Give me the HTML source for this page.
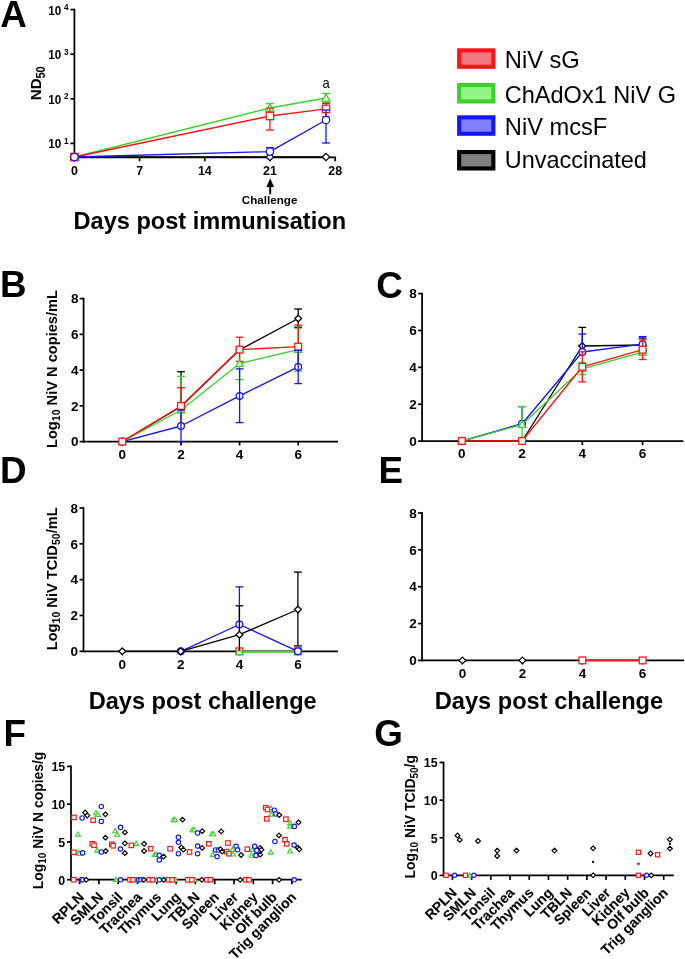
<!DOCTYPE html>
<html><head><meta charset="utf-8"><title>Figure</title>
<style>
html,body{margin:0;padding:0;background:#fff;}
body{width:685px;height:959px;overflow:hidden;}
svg{display:block;filter:blur(0.45px);}
svg text{font-family:"Liberation Sans", sans-serif;}
</style></head>
<body>
<svg width="685" height="959" viewBox="0 0 685 959">
<rect width="685" height="959" fill="#fff"/>
<text x="0.3" y="26.8" font-size="36.8" font-weight="bold" text-anchor="start" fill="#000">A</text>
<text x="0.1" y="297.0" font-size="36.8" font-weight="bold" text-anchor="start" fill="#000">B</text>
<text x="376.2" y="297.6" font-size="36.8" font-weight="bold" text-anchor="start" fill="#000">C</text>
<text x="0.0" y="483.0" font-size="36.8" font-weight="bold" text-anchor="start" fill="#000">D</text>
<text x="378.6" y="482.9" font-size="36.8" font-weight="bold" text-anchor="start" fill="#000">E</text>
<text x="3.6" y="746.0" font-size="36.8" font-weight="bold" text-anchor="start" fill="#000">F</text>
<text x="374.2" y="746.0" font-size="36.8" font-weight="bold" text-anchor="start" fill="#000">G</text>
<line x1="74.4" y1="8.7" x2="74.4" y2="158.20000000000002" stroke="#000" stroke-width="1.75"/>
<line x1="70.4" y1="9.6" x2="74.4" y2="9.6" stroke="#000" stroke-width="1.7"/>
<text x="48.2" y="14.6" font-size="13.0" font-weight="bold" text-anchor="start" fill="#000" textLength="13.0" lengthAdjust="spacingAndGlyphs">10</text>
<text x="63.9" y="10.2" font-size="8.2" font-weight="bold" text-anchor="start" fill="#000">4</text>
<line x1="70.4" y1="54.2" x2="74.4" y2="54.2" stroke="#000" stroke-width="1.7"/>
<text x="48.2" y="59.2" font-size="13.0" font-weight="bold" text-anchor="start" fill="#000" textLength="13.0" lengthAdjust="spacingAndGlyphs">10</text>
<text x="63.9" y="54.800000000000004" font-size="8.2" font-weight="bold" text-anchor="start" fill="#000">3</text>
<line x1="70.4" y1="98.8" x2="74.4" y2="98.8" stroke="#000" stroke-width="1.7"/>
<text x="48.2" y="103.8" font-size="13.0" font-weight="bold" text-anchor="start" fill="#000" textLength="13.0" lengthAdjust="spacingAndGlyphs">10</text>
<text x="63.9" y="99.39999999999999" font-size="8.2" font-weight="bold" text-anchor="start" fill="#000">2</text>
<line x1="70.4" y1="143.4" x2="74.4" y2="143.4" stroke="#000" stroke-width="1.7"/>
<text x="48.2" y="148.4" font-size="13.0" font-weight="bold" text-anchor="start" fill="#000" textLength="13.0" lengthAdjust="spacingAndGlyphs">10</text>
<text x="63.9" y="144.0" font-size="8.2" font-weight="bold" text-anchor="start" fill="#000">1</text>
<line x1="73.5" y1="157.3" x2="336.05" y2="157.3" stroke="#000" stroke-width="1.75"/>
<line x1="74.4" y1="157.3" x2="74.4" y2="161.3" stroke="#000" stroke-width="1.7"/>
<text x="74.4" y="175.0" font-size="12.4" font-weight="bold" text-anchor="middle" fill="#000">0</text>
<line x1="139.6" y1="157.3" x2="139.6" y2="161.3" stroke="#000" stroke-width="1.7"/>
<text x="139.6" y="175.0" font-size="12.4" font-weight="bold" text-anchor="middle" fill="#000">7</text>
<line x1="204.79999999999998" y1="157.3" x2="204.79999999999998" y2="161.3" stroke="#000" stroke-width="1.7"/>
<text x="204.79999999999998" y="175.0" font-size="12.4" font-weight="bold" text-anchor="middle" fill="#000">14</text>
<line x1="270.0" y1="157.3" x2="270.0" y2="161.3" stroke="#000" stroke-width="1.7"/>
<text x="270.0" y="175.0" font-size="12.4" font-weight="bold" text-anchor="middle" fill="#000">21</text>
<line x1="335.19999999999993" y1="157.3" x2="335.19999999999993" y2="161.3" stroke="#000" stroke-width="1.7"/>
<text x="335.19999999999993" y="175.0" font-size="12.4" font-weight="bold" text-anchor="middle" fill="#000">28</text>
<text transform="translate(41.2,100.2) rotate(-90)" font-size="15.5" font-weight="bold" textLength="21.9" lengthAdjust="spacingAndGlyphs">ND</text>
<text transform="translate(44.9,78.6) rotate(-90)" font-size="12" font-weight="bold" textLength="12.4" lengthAdjust="spacingAndGlyphs">50</text>
<polyline points="74.4,157.0 269.9,157.0 326.0,157.0" fill="none" stroke="#000000" stroke-width="1.35" stroke-linejoin="round"/>
<polygon points="74.40,153.34 78.21,157.00 74.40,160.66 70.59,157.00" fill="#fff" stroke="#000000" stroke-width="1.25"/>
<polygon points="269.90,153.34 273.71,157.00 269.90,160.66 266.09,157.00" fill="#fff" stroke="#000000" stroke-width="1.25"/>
<polygon points="326.00,153.34 329.81,157.00 326.00,160.66 322.19,157.00" fill="#fff" stroke="#000000" stroke-width="1.25"/>
<polyline points="74.4,157.0 269.9,108.0 326.0,98.0" fill="none" stroke="#3cd22a" stroke-width="1.35" stroke-linejoin="round"/>
<line x1="269.9" y1="103.6" x2="269.9" y2="112.4" stroke="#3cd22a" stroke-width="1.3"/>
<line x1="266.0" y1="103.6" x2="273.79999999999995" y2="103.6" stroke="#3cd22a" stroke-width="1.3"/>
<line x1="266.0" y1="112.4" x2="273.79999999999995" y2="112.4" stroke="#3cd22a" stroke-width="1.3"/>
<line x1="326.0" y1="93.4" x2="326.0" y2="102.6" stroke="#3cd22a" stroke-width="1.3"/>
<line x1="322.1" y1="93.4" x2="329.9" y2="93.4" stroke="#3cd22a" stroke-width="1.3"/>
<line x1="322.1" y1="102.6" x2="329.9" y2="102.6" stroke="#3cd22a" stroke-width="1.3"/>
<polygon points="74.40,153.09 78.42,160.17 70.38,160.17" fill="#fff" stroke="#3cd22a" stroke-width="1.25" stroke-linejoin="miter"/>
<polygon points="269.90,104.09 273.92,111.17 265.88,111.17" fill="#fff" stroke="#3cd22a" stroke-width="1.25" stroke-linejoin="miter"/>
<polygon points="326.00,94.09 330.02,101.17 321.98,101.17" fill="#fff" stroke="#3cd22a" stroke-width="1.25" stroke-linejoin="miter"/>
<polyline points="74.4,157.0 269.9,116.0 326.0,108.9" fill="none" stroke="#ff1414" stroke-width="1.35" stroke-linejoin="round"/>
<line x1="269.9" y1="108.0" x2="269.9" y2="130.0" stroke="#ff1414" stroke-width="1.3"/>
<line x1="266.0" y1="108.0" x2="273.79999999999995" y2="108.0" stroke="#ff1414" stroke-width="1.3"/>
<line x1="266.0" y1="130.0" x2="273.79999999999995" y2="130.0" stroke="#ff1414" stroke-width="1.3"/>
<line x1="326.0" y1="103.4" x2="326.0" y2="116.7" stroke="#ff1414" stroke-width="1.3"/>
<line x1="322.1" y1="103.4" x2="329.9" y2="103.4" stroke="#ff1414" stroke-width="1.3"/>
<line x1="322.1" y1="116.7" x2="329.9" y2="116.7" stroke="#ff1414" stroke-width="1.3"/>
<rect x="70.68" y="153.28" width="7.45" height="7.45" fill="#fff" stroke="#ff1414" stroke-width="1.25"/>
<rect x="266.17" y="112.28" width="7.45" height="7.45" fill="#fff" stroke="#ff1414" stroke-width="1.25"/>
<rect x="322.27" y="105.18" width="7.45" height="7.45" fill="#fff" stroke="#ff1414" stroke-width="1.25"/>
<polyline points="74.4,157.0 269.9,151.6 326.0,120.0" fill="none" stroke="#1414ff" stroke-width="1.35" stroke-linejoin="round"/>
<line x1="269.9" y1="147.6" x2="269.9" y2="151.6" stroke="#1414ff" stroke-width="1.3"/>
<line x1="266.0" y1="147.6" x2="273.79999999999995" y2="147.6" stroke="#1414ff" stroke-width="1.3"/>
<line x1="326.0" y1="110.0" x2="326.0" y2="143.0" stroke="#1414ff" stroke-width="1.3"/>
<line x1="322.1" y1="110.0" x2="329.9" y2="110.0" stroke="#1414ff" stroke-width="1.3"/>
<line x1="322.1" y1="143.0" x2="329.9" y2="143.0" stroke="#1414ff" stroke-width="1.3"/>
<circle cx="74.40" cy="157.00" r="3.72" fill="#fff" stroke="#1414ff" stroke-width="1.25"/>
<circle cx="269.90" cy="151.60" r="3.72" fill="#fff" stroke="#1414ff" stroke-width="1.25"/>
<circle cx="326.00" cy="120.00" r="3.72" fill="#fff" stroke="#1414ff" stroke-width="1.25"/>
<text x="326.0" y="87.8" font-size="14.2" font-weight="normal" text-anchor="middle" fill="#000" textLength="7.2" lengthAdjust="spacingAndGlyphs">a</text>
<line x1="270.2" y1="185" x2="270.2" y2="194.2" stroke="#000" stroke-width="2.0"/>
<polygon points="270.2,178.2 266.4,187.0 274.0,187.0" fill="#000"/>
<text x="269.6" y="203.6" font-size="10.2" font-weight="bold" text-anchor="middle" fill="#000" textLength="55.5" lengthAdjust="spacingAndGlyphs">Challenge</text>
<text x="73.5" y="228.9" font-size="24.0" font-weight="bold" text-anchor="start" fill="#000" textLength="272.6" lengthAdjust="spacingAndGlyphs">Days post immunisation</text>
<rect x="459.15000000000003" y="50.349999999999994" width="34.199999999999996" height="16.4" fill="#f07880" stroke="#ff1414" stroke-width="4.1"/>
<text x="504.8" y="68.0" font-size="23.6" font-weight="normal" text-anchor="start" fill="#000" textLength="75.0" lengthAdjust="spacingAndGlyphs">NiV sG</text>
<rect x="459.15000000000003" y="85.05" width="34.199999999999996" height="16.4" fill="#91f587" stroke="#3cd22a" stroke-width="4.1"/>
<text x="504.8" y="102.8" font-size="23.6" font-weight="normal" text-anchor="start" fill="#000" textLength="171.2" lengthAdjust="spacingAndGlyphs">ChAdOx1 NiV G</text>
<rect x="459.15000000000003" y="117.35" width="34.199999999999996" height="16.4" fill="#8080ff" stroke="#1414ff" stroke-width="4.1"/>
<text x="504.8" y="134.8" font-size="23.6" font-weight="normal" text-anchor="start" fill="#000" textLength="102.5" lengthAdjust="spacingAndGlyphs">NiV mcsF</text>
<rect x="459.15000000000003" y="152.05" width="34.199999999999996" height="16.4" fill="#808080" stroke="#000000" stroke-width="4.1"/>
<text x="504.8" y="168.3" font-size="23.6" font-weight="normal" text-anchor="start" fill="#000" textLength="142.0" lengthAdjust="spacingAndGlyphs">Unvaccinated</text>
<line x1="83.6" y1="297.70000000000005" x2="83.6" y2="442.5" stroke="#000" stroke-width="1.75"/>
<line x1="79.6" y1="441.6" x2="83.6" y2="441.6" stroke="#000" stroke-width="1.7"/>
<text x="78.6" y="446.3" font-size="13.5" font-weight="bold" text-anchor="end" fill="#000">0</text>
<line x1="79.6" y1="405.85" x2="83.6" y2="405.85" stroke="#000" stroke-width="1.7"/>
<text x="78.6" y="410.55" font-size="13.5" font-weight="bold" text-anchor="end" fill="#000">2</text>
<line x1="79.6" y1="370.1" x2="83.6" y2="370.1" stroke="#000" stroke-width="1.7"/>
<text x="78.6" y="374.8" font-size="13.5" font-weight="bold" text-anchor="end" fill="#000">4</text>
<line x1="79.6" y1="334.35" x2="83.6" y2="334.35" stroke="#000" stroke-width="1.7"/>
<text x="78.6" y="339.05" font-size="13.5" font-weight="bold" text-anchor="end" fill="#000">6</text>
<line x1="79.6" y1="298.6" x2="83.6" y2="298.6" stroke="#000" stroke-width="1.7"/>
<text x="78.6" y="303.3" font-size="13.5" font-weight="bold" text-anchor="end" fill="#000">8</text>
<line x1="82.69999999999999" y1="441.6" x2="338.0" y2="441.6" stroke="#000" stroke-width="1.75"/>
<line x1="122.3" y1="441.6" x2="122.3" y2="445.6" stroke="#000" stroke-width="1.7"/>
<text x="122.3" y="458.6" font-size="13.5" font-weight="bold" text-anchor="middle" fill="#000">0</text>
<line x1="181.0" y1="441.6" x2="181.0" y2="445.6" stroke="#000" stroke-width="1.7"/>
<text x="181.0" y="458.6" font-size="13.5" font-weight="bold" text-anchor="middle" fill="#000">2</text>
<line x1="239.6" y1="441.6" x2="239.6" y2="445.6" stroke="#000" stroke-width="1.7"/>
<text x="239.6" y="458.6" font-size="13.5" font-weight="bold" text-anchor="middle" fill="#000">4</text>
<line x1="298.2" y1="441.6" x2="298.2" y2="445.6" stroke="#000" stroke-width="1.7"/>
<text x="298.2" y="458.6" font-size="13.5" font-weight="bold" text-anchor="middle" fill="#000">6</text>
<text transform="translate(57.2,369.0) rotate(-90)" x="0" y="0" font-size="15" font-weight="bold" text-anchor="middle" textLength="158.0" lengthAdjust="spacingAndGlyphs"><tspan>Log</tspan><tspan font-size="10.80" dy="2.85">10</tspan><tspan dy="-2.85"> NiV N copies/mL</tspan></text>
<polyline points="122.3,441.6 181.0,406.5 239.6,349.8 298.2,318.5" fill="none" stroke="#000000" stroke-width="1.35" stroke-linejoin="round"/>
<polyline points="122.3,441.6 181.0,426.0 239.6,395.9 298.2,366.9" fill="none" stroke="#1414ff" stroke-width="1.35" stroke-linejoin="round"/>
<polyline points="122.3,441.6 181.0,410.0 239.6,363.5 298.2,349.6" fill="none" stroke="#3cd22a" stroke-width="1.35" stroke-linejoin="round"/>
<polyline points="122.3,441.6 181.0,406.0 239.6,349.6 298.2,346.7" fill="none" stroke="#ff1414" stroke-width="1.35" stroke-linejoin="round"/>
<line x1="181.0" y1="371.7" x2="181.0" y2="406.5" stroke="#000000" stroke-width="1.3"/>
<line x1="177.1" y1="371.7" x2="184.9" y2="371.7" stroke="#000000" stroke-width="1.3"/>
<line x1="177.1" y1="406.5" x2="184.9" y2="406.5" stroke="#000000" stroke-width="1.3"/>
<line x1="298.2" y1="309.0" x2="298.2" y2="327.7" stroke="#000000" stroke-width="1.3"/>
<line x1="294.3" y1="309.0" x2="302.09999999999997" y2="309.0" stroke="#000000" stroke-width="1.3"/>
<line x1="294.3" y1="327.7" x2="302.09999999999997" y2="327.7" stroke="#000000" stroke-width="1.3"/>
<line x1="181.0" y1="376.4" x2="181.0" y2="412.5" stroke="#3cd22a" stroke-width="1.3"/>
<line x1="177.1" y1="376.4" x2="184.9" y2="376.4" stroke="#3cd22a" stroke-width="1.3"/>
<line x1="177.1" y1="412.5" x2="184.9" y2="412.5" stroke="#3cd22a" stroke-width="1.3"/>
<line x1="239.6" y1="347.0" x2="239.6" y2="379.6" stroke="#3cd22a" stroke-width="1.3"/>
<line x1="235.7" y1="347.0" x2="243.5" y2="347.0" stroke="#3cd22a" stroke-width="1.3"/>
<line x1="235.7" y1="379.6" x2="243.5" y2="379.6" stroke="#3cd22a" stroke-width="1.3"/>
<line x1="298.2" y1="326.6" x2="298.2" y2="371.1" stroke="#3cd22a" stroke-width="1.3"/>
<line x1="294.3" y1="326.6" x2="302.09999999999997" y2="326.6" stroke="#3cd22a" stroke-width="1.3"/>
<line x1="294.3" y1="371.1" x2="302.09999999999997" y2="371.1" stroke="#3cd22a" stroke-width="1.3"/>
<line x1="181.0" y1="387.7" x2="181.0" y2="424.5" stroke="#ff1414" stroke-width="1.3"/>
<line x1="177.1" y1="387.7" x2="184.9" y2="387.7" stroke="#ff1414" stroke-width="1.3"/>
<line x1="177.1" y1="424.5" x2="184.9" y2="424.5" stroke="#ff1414" stroke-width="1.3"/>
<line x1="239.6" y1="337.2" x2="239.6" y2="361.3" stroke="#ff1414" stroke-width="1.3"/>
<line x1="235.7" y1="337.2" x2="243.5" y2="337.2" stroke="#ff1414" stroke-width="1.3"/>
<line x1="235.7" y1="361.3" x2="243.5" y2="361.3" stroke="#ff1414" stroke-width="1.3"/>
<line x1="298.2" y1="325.1" x2="298.2" y2="368.3" stroke="#ff1414" stroke-width="1.3"/>
<line x1="294.3" y1="325.1" x2="302.09999999999997" y2="325.1" stroke="#ff1414" stroke-width="1.3"/>
<line x1="294.3" y1="368.3" x2="302.09999999999997" y2="368.3" stroke="#ff1414" stroke-width="1.3"/>
<polygon points="122.30,438.28 125.75,441.60 122.30,444.92 118.84,441.60" fill="#fff" stroke="#000000" stroke-width="1.25"/>
<polygon points="181.00,403.18 184.46,406.50 181.00,409.82 177.54,406.50" fill="#fff" stroke="#000000" stroke-width="1.25"/>
<polygon points="239.60,346.48 243.06,349.80 239.60,353.12 236.14,349.80" fill="#fff" stroke="#000000" stroke-width="1.25"/>
<polygon points="298.20,315.18 301.65,318.50 298.20,321.82 294.75,318.50" fill="#fff" stroke="#000000" stroke-width="1.25"/>
<circle cx="122.30" cy="441.60" r="3.38" fill="#fff" stroke="#1414ff" stroke-width="1.25"/>
<circle cx="181.00" cy="426.00" r="3.38" fill="#fff" stroke="#1414ff" stroke-width="1.25"/>
<circle cx="239.60" cy="395.90" r="3.38" fill="#fff" stroke="#1414ff" stroke-width="1.25"/>
<circle cx="298.20" cy="366.90" r="3.38" fill="#fff" stroke="#1414ff" stroke-width="1.25"/>
<polygon points="122.30,438.06 125.94,444.47 118.66,444.47" fill="#fff" stroke="#3cd22a" stroke-width="1.25" stroke-linejoin="miter"/>
<polygon points="181.00,406.46 184.65,412.87 177.35,412.87" fill="#fff" stroke="#3cd22a" stroke-width="1.25" stroke-linejoin="miter"/>
<polygon points="239.60,359.96 243.25,366.37 235.95,366.37" fill="#fff" stroke="#3cd22a" stroke-width="1.25" stroke-linejoin="miter"/>
<polygon points="298.20,346.06 301.84,352.47 294.56,352.47" fill="#fff" stroke="#3cd22a" stroke-width="1.25" stroke-linejoin="miter"/>
<rect x="118.92" y="438.23" width="6.75" height="6.75" fill="#fff" stroke="#ff1414" stroke-width="1.25"/>
<rect x="177.62" y="402.62" width="6.75" height="6.75" fill="#fff" stroke="#ff1414" stroke-width="1.25"/>
<rect x="236.22" y="346.23" width="6.75" height="6.75" fill="#fff" stroke="#ff1414" stroke-width="1.25"/>
<rect x="294.82" y="343.32" width="6.75" height="6.75" fill="#fff" stroke="#ff1414" stroke-width="1.25"/>
<line x1="181.0" y1="410.1" x2="181.0" y2="441.6" stroke="#1414ff" stroke-width="1.3"/>
<line x1="177.1" y1="410.1" x2="184.9" y2="410.1" stroke="#1414ff" stroke-width="1.3"/>
<line x1="177.1" y1="441.6" x2="184.9" y2="441.6" stroke="#1414ff" stroke-width="1.3"/>
<line x1="239.6" y1="368.9" x2="239.6" y2="422.6" stroke="#1414ff" stroke-width="1.3"/>
<line x1="235.7" y1="368.9" x2="243.5" y2="368.9" stroke="#1414ff" stroke-width="1.3"/>
<line x1="235.7" y1="422.6" x2="243.5" y2="422.6" stroke="#1414ff" stroke-width="1.3"/>
<line x1="298.2" y1="350.4" x2="298.2" y2="383.6" stroke="#1414ff" stroke-width="1.3"/>
<line x1="294.3" y1="350.4" x2="302.09999999999997" y2="350.4" stroke="#1414ff" stroke-width="1.3"/>
<line x1="294.3" y1="383.6" x2="302.09999999999997" y2="383.6" stroke="#1414ff" stroke-width="1.3"/>
<line x1="422.1" y1="292.70000000000005" x2="422.1" y2="442.0" stroke="#000" stroke-width="1.75"/>
<line x1="418.1" y1="441.1" x2="422.1" y2="441.1" stroke="#000" stroke-width="1.7"/>
<text x="416.8" y="445.8" font-size="13.5" font-weight="bold" text-anchor="end" fill="#000">0</text>
<line x1="418.1" y1="404.225" x2="422.1" y2="404.225" stroke="#000" stroke-width="1.7"/>
<text x="416.8" y="408.925" font-size="13.5" font-weight="bold" text-anchor="end" fill="#000">2</text>
<line x1="418.1" y1="367.35" x2="422.1" y2="367.35" stroke="#000" stroke-width="1.7"/>
<text x="416.8" y="372.05" font-size="13.5" font-weight="bold" text-anchor="end" fill="#000">4</text>
<line x1="418.1" y1="330.475" x2="422.1" y2="330.475" stroke="#000" stroke-width="1.7"/>
<text x="416.8" y="335.175" font-size="13.5" font-weight="bold" text-anchor="end" fill="#000">6</text>
<line x1="418.1" y1="293.6" x2="422.1" y2="293.6" stroke="#000" stroke-width="1.7"/>
<text x="416.8" y="298.3" font-size="13.5" font-weight="bold" text-anchor="end" fill="#000">8</text>
<line x1="421.20000000000005" y1="441.1" x2="683.4" y2="441.1" stroke="#000" stroke-width="1.75"/>
<line x1="461.8" y1="441.1" x2="461.8" y2="445.1" stroke="#000" stroke-width="1.7"/>
<text x="461.8" y="458.2" font-size="13.5" font-weight="bold" text-anchor="middle" fill="#000">0</text>
<line x1="522.1" y1="441.1" x2="522.1" y2="445.1" stroke="#000" stroke-width="1.7"/>
<text x="522.1" y="458.2" font-size="13.5" font-weight="bold" text-anchor="middle" fill="#000">2</text>
<line x1="582.3" y1="441.1" x2="582.3" y2="445.1" stroke="#000" stroke-width="1.7"/>
<text x="582.3" y="458.2" font-size="13.5" font-weight="bold" text-anchor="middle" fill="#000">4</text>
<line x1="642.6" y1="441.1" x2="642.6" y2="445.1" stroke="#000" stroke-width="1.7"/>
<text x="642.6" y="458.2" font-size="13.5" font-weight="bold" text-anchor="middle" fill="#000">6</text>
<polyline points="461.8,441.0 522.1,441.0 582.3,346.0 642.6,345.0" fill="none" stroke="#000000" stroke-width="1.35" stroke-linejoin="round"/>
<line x1="582.3" y1="327.4" x2="582.3" y2="346.0" stroke="#000000" stroke-width="1.3"/>
<line x1="578.4" y1="327.4" x2="586.1999999999999" y2="327.4" stroke="#000000" stroke-width="1.3"/>
<line x1="578.4" y1="346.0" x2="586.1999999999999" y2="346.0" stroke="#000000" stroke-width="1.3"/>
<line x1="642.6" y1="338.0" x2="642.6" y2="351.0" stroke="#000000" stroke-width="1.3"/>
<line x1="638.7" y1="338.0" x2="646.5" y2="338.0" stroke="#000000" stroke-width="1.3"/>
<line x1="638.7" y1="351.0" x2="646.5" y2="351.0" stroke="#000000" stroke-width="1.3"/>
<polygon points="461.80,437.68 465.25,441.00 461.80,444.32 458.35,441.00" fill="#fff" stroke="#000000" stroke-width="1.25"/>
<polygon points="522.10,437.68 525.56,441.00 522.10,444.32 518.64,441.00" fill="#fff" stroke="#000000" stroke-width="1.25"/>
<polygon points="582.30,342.68 585.75,346.00 582.30,349.32 578.84,346.00" fill="#fff" stroke="#000000" stroke-width="1.25"/>
<polygon points="642.60,341.68 646.06,345.00 642.60,348.32 639.14,345.00" fill="#fff" stroke="#000000" stroke-width="1.25"/>
<polyline points="461.8,441.0 522.1,423.7 582.3,352.0 642.6,344.2" fill="none" stroke="#1414ff" stroke-width="1.35" stroke-linejoin="round"/>
<line x1="522.1" y1="406.6" x2="522.1" y2="423.7" stroke="#1414ff" stroke-width="1.3"/>
<line x1="518.2" y1="406.6" x2="526.0" y2="406.6" stroke="#1414ff" stroke-width="1.3"/>
<line x1="582.3" y1="334.0" x2="582.3" y2="352.0" stroke="#1414ff" stroke-width="1.3"/>
<line x1="578.4" y1="334.0" x2="586.1999999999999" y2="334.0" stroke="#1414ff" stroke-width="1.3"/>
<line x1="578.4" y1="352.0" x2="586.1999999999999" y2="352.0" stroke="#1414ff" stroke-width="1.3"/>
<line x1="642.6" y1="336.6" x2="642.6" y2="351.0" stroke="#1414ff" stroke-width="1.3"/>
<line x1="638.7" y1="336.6" x2="646.5" y2="336.6" stroke="#1414ff" stroke-width="1.3"/>
<line x1="638.7" y1="351.0" x2="646.5" y2="351.0" stroke="#1414ff" stroke-width="1.3"/>
<circle cx="461.80" cy="441.00" r="3.38" fill="#fff" stroke="#1414ff" stroke-width="1.25"/>
<circle cx="522.10" cy="423.70" r="3.38" fill="#fff" stroke="#1414ff" stroke-width="1.25"/>
<circle cx="582.30" cy="352.00" r="3.38" fill="#fff" stroke="#1414ff" stroke-width="1.25"/>
<circle cx="642.60" cy="344.20" r="3.38" fill="#fff" stroke="#1414ff" stroke-width="1.25"/>
<polyline points="461.8,441.0 522.1,424.6 582.3,368.8 642.6,352.2" fill="none" stroke="#3cd22a" stroke-width="1.35" stroke-linejoin="round"/>
<line x1="522.1" y1="406.6" x2="522.1" y2="441.0" stroke="#3cd22a" stroke-width="1.3"/>
<line x1="518.2" y1="406.6" x2="526.0" y2="406.6" stroke="#3cd22a" stroke-width="1.3"/>
<line x1="518.2" y1="441.0" x2="526.0" y2="441.0" stroke="#3cd22a" stroke-width="1.3"/>
<line x1="582.3" y1="362.4" x2="582.3" y2="374.6" stroke="#3cd22a" stroke-width="1.3"/>
<line x1="578.4" y1="362.4" x2="586.1999999999999" y2="362.4" stroke="#3cd22a" stroke-width="1.3"/>
<line x1="578.4" y1="374.6" x2="586.1999999999999" y2="374.6" stroke="#3cd22a" stroke-width="1.3"/>
<line x1="642.6" y1="349.0" x2="642.6" y2="354.7" stroke="#3cd22a" stroke-width="1.3"/>
<line x1="638.7" y1="349.0" x2="646.5" y2="349.0" stroke="#3cd22a" stroke-width="1.3"/>
<line x1="638.7" y1="354.7" x2="646.5" y2="354.7" stroke="#3cd22a" stroke-width="1.3"/>
<polygon points="461.80,437.46 465.44,443.87 458.16,443.87" fill="#fff" stroke="#3cd22a" stroke-width="1.25" stroke-linejoin="miter"/>
<polygon points="522.10,421.06 525.75,427.47 518.46,427.47" fill="#fff" stroke="#3cd22a" stroke-width="1.25" stroke-linejoin="miter"/>
<polygon points="582.30,365.26 585.94,371.67 578.65,371.67" fill="#fff" stroke="#3cd22a" stroke-width="1.25" stroke-linejoin="miter"/>
<polygon points="642.60,348.66 646.25,355.07 638.96,355.07" fill="#fff" stroke="#3cd22a" stroke-width="1.25" stroke-linejoin="miter"/>
<polyline points="461.8,441.0 522.1,441.0 582.3,366.8 642.6,349.7" fill="none" stroke="#ff1414" stroke-width="1.35" stroke-linejoin="round"/>
<line x1="582.3" y1="351.8" x2="582.3" y2="381.9" stroke="#ff1414" stroke-width="1.3"/>
<line x1="578.4" y1="351.8" x2="586.1999999999999" y2="351.8" stroke="#ff1414" stroke-width="1.3"/>
<line x1="578.4" y1="381.9" x2="586.1999999999999" y2="381.9" stroke="#ff1414" stroke-width="1.3"/>
<line x1="642.6" y1="339.8" x2="642.6" y2="359.5" stroke="#ff1414" stroke-width="1.3"/>
<line x1="638.7" y1="339.8" x2="646.5" y2="339.8" stroke="#ff1414" stroke-width="1.3"/>
<line x1="638.7" y1="359.5" x2="646.5" y2="359.5" stroke="#ff1414" stroke-width="1.3"/>
<rect x="458.43" y="437.62" width="6.75" height="6.75" fill="#fff" stroke="#ff1414" stroke-width="1.25"/>
<rect x="518.73" y="437.62" width="6.75" height="6.75" fill="#fff" stroke="#ff1414" stroke-width="1.25"/>
<rect x="578.92" y="363.43" width="6.75" height="6.75" fill="#fff" stroke="#ff1414" stroke-width="1.25"/>
<rect x="639.23" y="346.32" width="6.75" height="6.75" fill="#fff" stroke="#ff1414" stroke-width="1.25"/>
<line x1="83.5" y1="507.1" x2="83.5" y2="652.1999999999999" stroke="#000" stroke-width="1.75"/>
<line x1="79.5" y1="651.3" x2="83.5" y2="651.3" stroke="#000" stroke-width="1.7"/>
<text x="78.0" y="656.0" font-size="13.5" font-weight="bold" text-anchor="end" fill="#000">0</text>
<line x1="79.5" y1="615.4749999999999" x2="83.5" y2="615.4749999999999" stroke="#000" stroke-width="1.7"/>
<text x="78.0" y="620.175" font-size="13.5" font-weight="bold" text-anchor="end" fill="#000">2</text>
<line x1="79.5" y1="579.65" x2="83.5" y2="579.65" stroke="#000" stroke-width="1.7"/>
<text x="78.0" y="584.35" font-size="13.5" font-weight="bold" text-anchor="end" fill="#000">4</text>
<line x1="79.5" y1="543.825" x2="83.5" y2="543.825" stroke="#000" stroke-width="1.7"/>
<text x="78.0" y="548.5250000000001" font-size="13.5" font-weight="bold" text-anchor="end" fill="#000">6</text>
<line x1="79.5" y1="508.0" x2="83.5" y2="508.0" stroke="#000" stroke-width="1.7"/>
<text x="78.0" y="512.7" font-size="13.5" font-weight="bold" text-anchor="end" fill="#000">8</text>
<line x1="82.6" y1="651.3" x2="338.0" y2="651.3" stroke="#000" stroke-width="1.75"/>
<line x1="122.3" y1="651.3" x2="122.3" y2="655.3" stroke="#000" stroke-width="1.7"/>
<text x="122.3" y="668.9" font-size="13.5" font-weight="bold" text-anchor="middle" fill="#000">0</text>
<line x1="180.8" y1="651.3" x2="180.8" y2="655.3" stroke="#000" stroke-width="1.7"/>
<text x="180.8" y="668.9" font-size="13.5" font-weight="bold" text-anchor="middle" fill="#000">2</text>
<line x1="239.4" y1="651.3" x2="239.4" y2="655.3" stroke="#000" stroke-width="1.7"/>
<text x="239.4" y="668.9" font-size="13.5" font-weight="bold" text-anchor="middle" fill="#000">4</text>
<line x1="297.9" y1="651.3" x2="297.9" y2="655.3" stroke="#000" stroke-width="1.7"/>
<text x="297.9" y="668.9" font-size="13.5" font-weight="bold" text-anchor="middle" fill="#000">6</text>
<text transform="translate(57.2,578.8) rotate(-90)" x="0" y="0" font-size="15" font-weight="bold" text-anchor="middle" textLength="143.0" lengthAdjust="spacingAndGlyphs"><tspan>Log</tspan><tspan font-size="10.80" dy="2.85">10</tspan><tspan dy="-2.85"> NiV TCID</tspan><tspan font-size="10.80" dy="2.85">50</tspan><tspan dy="-2.85">/mL</tspan></text>
<rect x="236.03" y="647.92" width="6.75" height="6.75" fill="#fff" stroke="#ff1414" stroke-width="1.25"/>
<rect x="294.52" y="647.92" width="6.75" height="6.75" fill="#fff" stroke="#ff1414" stroke-width="1.25"/>
<polyline points="239.4,651.7 297.9,651.7" fill="none" stroke="#3cd22a" stroke-width="1.6" stroke-linejoin="round"/>
<polygon points="239.40,648.16 243.05,654.57 235.75,654.57" fill="#fff" stroke="#3cd22a" stroke-width="1.25" stroke-linejoin="miter"/>
<polygon points="297.90,648.16 301.54,654.57 294.25,654.57" fill="#fff" stroke="#3cd22a" stroke-width="1.25" stroke-linejoin="miter"/>
<polyline points="180.8,651.3 239.4,624.5 297.9,651.3" fill="none" stroke="#1414ff" stroke-width="1.35" stroke-linejoin="round"/>
<line x1="239.4" y1="586.9" x2="239.4" y2="624.5" stroke="#1414ff" stroke-width="1.3"/>
<line x1="235.5" y1="586.9" x2="243.3" y2="586.9" stroke="#1414ff" stroke-width="1.3"/>
<circle cx="180.80" cy="651.30" r="3.38" fill="#fff" stroke="#1414ff" stroke-width="1.25"/>
<circle cx="239.40" cy="624.50" r="3.38" fill="#fff" stroke="#1414ff" stroke-width="1.25"/>
<circle cx="297.90" cy="651.30" r="3.38" fill="#fff" stroke="#1414ff" stroke-width="1.25"/>
<polyline points="122.3,651.3 180.8,651.3 239.4,634.7 297.9,609.5" fill="none" stroke="#000000" stroke-width="1.35" stroke-linejoin="round"/>
<line x1="239.4" y1="605.8" x2="239.4" y2="651.1" stroke="#000000" stroke-width="1.3"/>
<line x1="235.5" y1="605.8" x2="243.3" y2="605.8" stroke="#000000" stroke-width="1.3"/>
<line x1="297.9" y1="572.1" x2="297.9" y2="645.9" stroke="#000000" stroke-width="1.3"/>
<line x1="294.0" y1="572.1" x2="301.79999999999995" y2="572.1" stroke="#000000" stroke-width="1.3"/>
<line x1="294.0" y1="645.9" x2="301.79999999999995" y2="645.9" stroke="#000000" stroke-width="1.3"/>
<polygon points="122.30,647.98 125.75,651.30 122.30,654.62 118.84,651.30" fill="#fff" stroke="#000000" stroke-width="1.25"/>
<polygon points="180.80,647.98 184.26,651.30 180.80,654.62 177.34,651.30" fill="#fff" stroke="#000000" stroke-width="1.25"/>
<polygon points="239.40,631.38 242.86,634.70 239.40,638.02 235.94,634.70" fill="#fff" stroke="#000000" stroke-width="1.25"/>
<polygon points="297.90,606.18 301.35,609.50 297.90,612.82 294.44,609.50" fill="#fff" stroke="#000000" stroke-width="1.25"/>
<text x="88.7" y="709.2" font-size="24.0" font-weight="bold" text-anchor="start" fill="#000" textLength="228.0" lengthAdjust="spacingAndGlyphs">Days post challenge</text>
<line x1="422.0" y1="512.1" x2="422.0" y2="661.3" stroke="#000" stroke-width="1.75"/>
<line x1="418.0" y1="660.4" x2="422.0" y2="660.4" stroke="#000" stroke-width="1.7"/>
<text x="416.8" y="665.1" font-size="13.5" font-weight="bold" text-anchor="end" fill="#000">0</text>
<line x1="418.0" y1="623.55" x2="422.0" y2="623.55" stroke="#000" stroke-width="1.7"/>
<text x="416.8" y="628.25" font-size="13.5" font-weight="bold" text-anchor="end" fill="#000">2</text>
<line x1="418.0" y1="586.7" x2="422.0" y2="586.7" stroke="#000" stroke-width="1.7"/>
<text x="416.8" y="591.4000000000001" font-size="13.5" font-weight="bold" text-anchor="end" fill="#000">4</text>
<line x1="418.0" y1="549.85" x2="422.0" y2="549.85" stroke="#000" stroke-width="1.7"/>
<text x="416.8" y="554.5500000000001" font-size="13.5" font-weight="bold" text-anchor="end" fill="#000">6</text>
<line x1="418.0" y1="513.0" x2="422.0" y2="513.0" stroke="#000" stroke-width="1.7"/>
<text x="416.8" y="517.7" font-size="13.5" font-weight="bold" text-anchor="end" fill="#000">8</text>
<line x1="421.1" y1="660.4" x2="684.0" y2="660.4" stroke="#000" stroke-width="1.75"/>
<line x1="462.4" y1="660.4" x2="462.4" y2="664.4" stroke="#000" stroke-width="1.7"/>
<text x="462.4" y="677.6" font-size="13.5" font-weight="bold" text-anchor="middle" fill="#000">0</text>
<line x1="522.4" y1="660.4" x2="522.4" y2="664.4" stroke="#000" stroke-width="1.7"/>
<text x="522.4" y="677.6" font-size="13.5" font-weight="bold" text-anchor="middle" fill="#000">2</text>
<line x1="582.4" y1="660.4" x2="582.4" y2="664.4" stroke="#000" stroke-width="1.7"/>
<text x="582.4" y="677.6" font-size="13.5" font-weight="bold" text-anchor="middle" fill="#000">4</text>
<line x1="642.6" y1="660.4" x2="642.6" y2="664.4" stroke="#000" stroke-width="1.7"/>
<text x="642.6" y="677.6" font-size="13.5" font-weight="bold" text-anchor="middle" fill="#000">6</text>
<polyline points="582.4,660.4 642.6,660.4" fill="none" stroke="#ff1414" stroke-width="1.6" stroke-linejoin="round"/>
<polygon points="462.40,657.08 465.85,660.40 462.40,663.72 458.94,660.40" fill="#fff" stroke="#000000" stroke-width="1.25"/>
<polygon points="522.40,657.08 525.86,660.40 522.40,663.72 518.94,660.40" fill="#fff" stroke="#000000" stroke-width="1.25"/>
<rect x="579.02" y="657.02" width="6.75" height="6.75" fill="#fff" stroke="#ff1414" stroke-width="1.25"/>
<rect x="639.23" y="657.02" width="6.75" height="6.75" fill="#fff" stroke="#ff1414" stroke-width="1.25"/>
<text x="434.7" y="709.2" font-size="24.0" font-weight="bold" text-anchor="start" fill="#000" textLength="228.5" lengthAdjust="spacingAndGlyphs">Days post challenge</text>
<line x1="71.0" y1="765.5" x2="71.0" y2="880.6" stroke="#000" stroke-width="1.75"/>
<line x1="67.0" y1="879.7" x2="71.0" y2="879.7" stroke="#000" stroke-width="1.7"/>
<text x="65.2" y="884.5" font-size="12.4" font-weight="bold" text-anchor="end" fill="#000">0</text>
<line x1="67.0" y1="841.9333333333334" x2="71.0" y2="841.9333333333334" stroke="#000" stroke-width="1.7"/>
<text x="65.2" y="846.7333333333333" font-size="12.4" font-weight="bold" text-anchor="end" fill="#000">5</text>
<line x1="67.0" y1="804.1666666666666" x2="71.0" y2="804.1666666666666" stroke="#000" stroke-width="1.7"/>
<text x="65.2" y="808.9666666666666" font-size="12.4" font-weight="bold" text-anchor="end" fill="#000">10</text>
<line x1="67.0" y1="766.4" x2="71.0" y2="766.4" stroke="#000" stroke-width="1.7"/>
<text x="65.2" y="771.1999999999999" font-size="12.4" font-weight="bold" text-anchor="end" fill="#000">15</text>
<line x1="70.1" y1="879.7" x2="301.8" y2="879.7" stroke="#000" stroke-width="1.75"/>
<line x1="79.6" y1="879.7" x2="79.6" y2="884.2" stroke="#000" stroke-width="1.7"/>
<text transform="translate(84.8,897.9) rotate(-45)" font-size="14.0" font-weight="bold" text-anchor="end" stroke="#000" stroke-width="0.12">RPLN</text>
<line x1="98.89999999999999" y1="879.7" x2="98.89999999999999" y2="884.2" stroke="#000" stroke-width="1.7"/>
<text transform="translate(104.1,897.9) rotate(-45)" font-size="14.0" font-weight="bold" text-anchor="end" stroke="#000" stroke-width="0.12">SMLN</text>
<line x1="118.19999999999999" y1="879.7" x2="118.19999999999999" y2="884.2" stroke="#000" stroke-width="1.7"/>
<text transform="translate(123.4,897.9) rotate(-45)" font-size="14.0" font-weight="bold" text-anchor="end" stroke="#000" stroke-width="0.12">Tonsil</text>
<line x1="137.5" y1="879.7" x2="137.5" y2="884.2" stroke="#000" stroke-width="1.7"/>
<text transform="translate(142.7,897.9) rotate(-45)" font-size="14.0" font-weight="bold" text-anchor="end" stroke="#000" stroke-width="0.12">Trachea</text>
<line x1="156.8" y1="879.7" x2="156.8" y2="884.2" stroke="#000" stroke-width="1.7"/>
<text transform="translate(162.0,897.9) rotate(-45)" font-size="14.0" font-weight="bold" text-anchor="end" stroke="#000" stroke-width="0.12">Thymus</text>
<line x1="176.1" y1="879.7" x2="176.1" y2="884.2" stroke="#000" stroke-width="1.7"/>
<text transform="translate(181.3,897.9) rotate(-45)" font-size="14.0" font-weight="bold" text-anchor="end" stroke="#000" stroke-width="0.12">Lung</text>
<line x1="195.4" y1="879.7" x2="195.4" y2="884.2" stroke="#000" stroke-width="1.7"/>
<text transform="translate(200.6,897.9) rotate(-45)" font-size="14.0" font-weight="bold" text-anchor="end" stroke="#000" stroke-width="0.12">TBLN</text>
<line x1="214.7" y1="879.7" x2="214.7" y2="884.2" stroke="#000" stroke-width="1.7"/>
<text transform="translate(219.9,897.9) rotate(-45)" font-size="14.0" font-weight="bold" text-anchor="end" stroke="#000" stroke-width="0.12">Spleen</text>
<line x1="234.0" y1="879.7" x2="234.0" y2="884.2" stroke="#000" stroke-width="1.7"/>
<text transform="translate(239.2,897.9) rotate(-45)" font-size="14.0" font-weight="bold" text-anchor="end" stroke="#000" stroke-width="0.12">Liver</text>
<line x1="253.3" y1="879.7" x2="253.3" y2="884.2" stroke="#000" stroke-width="1.7"/>
<text transform="translate(258.5,897.9) rotate(-45)" font-size="14.0" font-weight="bold" text-anchor="end" stroke="#000" stroke-width="0.12">Kidney</text>
<line x1="272.6" y1="879.7" x2="272.6" y2="884.2" stroke="#000" stroke-width="1.7"/>
<text transform="translate(277.8,897.9) rotate(-45)" font-size="14.0" font-weight="bold" text-anchor="end" stroke="#000" stroke-width="0.12">Olf bulb</text>
<line x1="291.9" y1="879.7" x2="291.9" y2="884.2" stroke="#000" stroke-width="1.7"/>
<text transform="translate(297.1,897.9) rotate(-45)" font-size="14.0" font-weight="bold" text-anchor="end" stroke="#000" stroke-width="0.12">Trig ganglion</text>
<text transform="translate(43.0,820.5) rotate(-90)" x="0" y="0" font-size="14.2" font-weight="bold" text-anchor="middle" textLength="137.5" lengthAdjust="spacingAndGlyphs"><tspan>Log</tspan><tspan font-size="10.22" dy="2.70">10</tspan><tspan dy="-2.70"> NiV N copies/g</tspan></text>
<polygon points="77.90,831.86 80.30,836.09 75.50,836.09" fill="#fff" stroke="#3cd22a" stroke-width="1.15" stroke-linejoin="miter"/>
<polygon points="78.20,850.56 80.60,854.79 75.80,854.79" fill="#fff" stroke="#3cd22a" stroke-width="1.15" stroke-linejoin="miter"/>
<polygon points="79.20,850.86 81.60,855.09 76.80,855.09" fill="#fff" stroke="#3cd22a" stroke-width="1.15" stroke-linejoin="miter"/>
<polygon points="96.00,810.56 98.40,814.79 93.60,814.79" fill="#fff" stroke="#3cd22a" stroke-width="1.15" stroke-linejoin="miter"/>
<polygon points="97.80,812.26 100.20,816.49 95.40,816.49" fill="#fff" stroke="#3cd22a" stroke-width="1.15" stroke-linejoin="miter"/>
<polygon points="97.20,847.96 99.60,852.19 94.80,852.19" fill="#fff" stroke="#3cd22a" stroke-width="1.15" stroke-linejoin="miter"/>
<polygon points="115.20,828.56 117.60,832.79 112.80,832.79" fill="#fff" stroke="#3cd22a" stroke-width="1.15" stroke-linejoin="miter"/>
<polygon points="117.20,832.26 119.60,836.49 114.80,836.49" fill="#fff" stroke="#3cd22a" stroke-width="1.15" stroke-linejoin="miter"/>
<polygon points="116.10,877.46 118.50,881.69 113.70,881.69" fill="#fff" stroke="#3cd22a" stroke-width="1.15" stroke-linejoin="miter"/>
<polygon points="136.30,841.16 138.70,845.39 133.90,845.39" fill="#fff" stroke="#3cd22a" stroke-width="1.15" stroke-linejoin="miter"/>
<polygon points="136.80,877.46 139.20,881.69 134.40,881.69" fill="#fff" stroke="#3cd22a" stroke-width="1.15" stroke-linejoin="miter"/>
<polygon points="154.60,852.16 157.00,856.39 152.20,856.39" fill="#fff" stroke="#3cd22a" stroke-width="1.15" stroke-linejoin="miter"/>
<polygon points="156.10,852.16 158.50,856.39 153.70,856.39" fill="#fff" stroke="#3cd22a" stroke-width="1.15" stroke-linejoin="miter"/>
<polygon points="156.40,877.46 158.80,881.69 154.00,881.69" fill="#fff" stroke="#3cd22a" stroke-width="1.15" stroke-linejoin="miter"/>
<polygon points="173.50,817.36 175.90,821.59 171.10,821.59" fill="#fff" stroke="#3cd22a" stroke-width="1.15" stroke-linejoin="miter"/>
<polygon points="175.10,817.36 177.50,821.59 172.70,821.59" fill="#fff" stroke="#3cd22a" stroke-width="1.15" stroke-linejoin="miter"/>
<polygon points="175.50,877.46 177.90,881.69 173.10,881.69" fill="#fff" stroke="#3cd22a" stroke-width="1.15" stroke-linejoin="miter"/>
<polygon points="192.30,827.56 194.70,831.79 189.90,831.79" fill="#fff" stroke="#3cd22a" stroke-width="1.15" stroke-linejoin="miter"/>
<polygon points="194.20,827.56 196.60,831.79 191.80,831.79" fill="#fff" stroke="#3cd22a" stroke-width="1.15" stroke-linejoin="miter"/>
<polygon points="194.90,877.46 197.30,881.69 192.50,881.69" fill="#fff" stroke="#3cd22a" stroke-width="1.15" stroke-linejoin="miter"/>
<polygon points="211.80,831.56 214.20,835.79 209.40,835.79" fill="#fff" stroke="#3cd22a" stroke-width="1.15" stroke-linejoin="miter"/>
<polygon points="213.40,831.56 215.80,835.79 211.00,835.79" fill="#fff" stroke="#3cd22a" stroke-width="1.15" stroke-linejoin="miter"/>
<polygon points="212.80,852.16 215.20,856.39 210.40,856.39" fill="#fff" stroke="#3cd22a" stroke-width="1.15" stroke-linejoin="miter"/>
<polygon points="232.40,847.16 234.80,851.39 230.00,851.39" fill="#fff" stroke="#3cd22a" stroke-width="1.15" stroke-linejoin="miter"/>
<polygon points="233.20,851.76 235.60,855.99 230.80,855.99" fill="#fff" stroke="#3cd22a" stroke-width="1.15" stroke-linejoin="miter"/>
<polygon points="252.20,847.46 254.60,851.69 249.80,851.69" fill="#fff" stroke="#3cd22a" stroke-width="1.15" stroke-linejoin="miter"/>
<polygon points="251.50,853.06 253.90,857.29 249.10,857.29" fill="#fff" stroke="#3cd22a" stroke-width="1.15" stroke-linejoin="miter"/>
<polygon points="271.00,805.66 273.40,809.89 268.60,809.89" fill="#fff" stroke="#3cd22a" stroke-width="1.15" stroke-linejoin="miter"/>
<polygon points="271.00,811.86 273.40,816.09 268.60,816.09" fill="#fff" stroke="#3cd22a" stroke-width="1.15" stroke-linejoin="miter"/>
<polygon points="270.80,849.86 273.20,854.09 268.40,854.09" fill="#fff" stroke="#3cd22a" stroke-width="1.15" stroke-linejoin="miter"/>
<polygon points="290.00,820.66 292.40,824.89 287.60,824.89" fill="#fff" stroke="#3cd22a" stroke-width="1.15" stroke-linejoin="miter"/>
<polygon points="290.00,823.96 292.40,828.19 287.60,828.19" fill="#fff" stroke="#3cd22a" stroke-width="1.15" stroke-linejoin="miter"/>
<polygon points="290.00,848.76 292.40,852.99 287.60,852.99" fill="#fff" stroke="#3cd22a" stroke-width="1.15" stroke-linejoin="miter"/>
<rect x="71.78" y="815.17" width="4.45" height="4.45" fill="#fff" stroke="#ff1414" stroke-width="1.15"/>
<rect x="71.58" y="850.07" width="4.45" height="4.45" fill="#fff" stroke="#ff1414" stroke-width="1.15"/>
<rect x="71.58" y="877.57" width="4.45" height="4.45" fill="#fff" stroke="#ff1414" stroke-width="1.15"/>
<rect x="90.88" y="818.07" width="4.45" height="4.45" fill="#fff" stroke="#ff1414" stroke-width="1.15"/>
<rect x="89.98" y="841.57" width="4.45" height="4.45" fill="#fff" stroke="#ff1414" stroke-width="1.15"/>
<rect x="91.78" y="843.07" width="4.45" height="4.45" fill="#fff" stroke="#ff1414" stroke-width="1.15"/>
<rect x="109.58" y="841.98" width="4.45" height="4.45" fill="#fff" stroke="#ff1414" stroke-width="1.15"/>
<rect x="110.88" y="843.57" width="4.45" height="4.45" fill="#fff" stroke="#ff1414" stroke-width="1.15"/>
<rect x="129.08" y="843.17" width="4.45" height="4.45" fill="#fff" stroke="#ff1414" stroke-width="1.15"/>
<rect x="127.78" y="877.57" width="4.45" height="4.45" fill="#fff" stroke="#ff1414" stroke-width="1.15"/>
<rect x="130.68" y="877.57" width="4.45" height="4.45" fill="#fff" stroke="#ff1414" stroke-width="1.15"/>
<rect x="148.47" y="846.48" width="4.45" height="4.45" fill="#fff" stroke="#ff1414" stroke-width="1.15"/>
<rect x="146.97" y="877.57" width="4.45" height="4.45" fill="#fff" stroke="#ff1414" stroke-width="1.15"/>
<rect x="150.28" y="877.57" width="4.45" height="4.45" fill="#fff" stroke="#ff1414" stroke-width="1.15"/>
<rect x="167.88" y="846.48" width="4.45" height="4.45" fill="#fff" stroke="#ff1414" stroke-width="1.15"/>
<rect x="166.08" y="877.57" width="4.45" height="4.45" fill="#fff" stroke="#ff1414" stroke-width="1.15"/>
<rect x="169.97" y="877.57" width="4.45" height="4.45" fill="#fff" stroke="#ff1414" stroke-width="1.15"/>
<rect x="187.28" y="849.77" width="4.45" height="4.45" fill="#fff" stroke="#ff1414" stroke-width="1.15"/>
<rect x="185.78" y="877.57" width="4.45" height="4.45" fill="#fff" stroke="#ff1414" stroke-width="1.15"/>
<rect x="189.68" y="877.57" width="4.45" height="4.45" fill="#fff" stroke="#ff1414" stroke-width="1.15"/>
<rect x="206.58" y="841.57" width="4.45" height="4.45" fill="#fff" stroke="#ff1414" stroke-width="1.15"/>
<rect x="204.78" y="877.57" width="4.45" height="4.45" fill="#fff" stroke="#ff1414" stroke-width="1.15"/>
<rect x="208.08" y="877.57" width="4.45" height="4.45" fill="#fff" stroke="#ff1414" stroke-width="1.15"/>
<rect x="225.68" y="840.77" width="4.45" height="4.45" fill="#fff" stroke="#ff1414" stroke-width="1.15"/>
<rect x="224.47" y="849.38" width="4.45" height="4.45" fill="#fff" stroke="#ff1414" stroke-width="1.15"/>
<rect x="226.68" y="851.48" width="4.45" height="4.45" fill="#fff" stroke="#ff1414" stroke-width="1.15"/>
<rect x="245.08" y="846.98" width="4.45" height="4.45" fill="#fff" stroke="#ff1414" stroke-width="1.15"/>
<rect x="243.68" y="877.57" width="4.45" height="4.45" fill="#fff" stroke="#ff1414" stroke-width="1.15"/>
<rect x="246.68" y="877.57" width="4.45" height="4.45" fill="#fff" stroke="#ff1414" stroke-width="1.15"/>
<rect x="263.47" y="805.48" width="4.45" height="4.45" fill="#fff" stroke="#ff1414" stroke-width="1.15"/>
<rect x="265.27" y="807.27" width="4.45" height="4.45" fill="#fff" stroke="#ff1414" stroke-width="1.15"/>
<rect x="264.57" y="816.57" width="4.45" height="4.45" fill="#fff" stroke="#ff1414" stroke-width="1.15"/>
<rect x="283.67" y="816.88" width="4.45" height="4.45" fill="#fff" stroke="#ff1414" stroke-width="1.15"/>
<rect x="282.77" y="837.57" width="4.45" height="4.45" fill="#fff" stroke="#ff1414" stroke-width="1.15"/>
<rect x="284.57" y="841.57" width="4.45" height="4.45" fill="#fff" stroke="#ff1414" stroke-width="1.15"/>
<circle cx="82.10" cy="818.00" r="2.22" fill="#fff" stroke="#1414ff" stroke-width="1.15"/>
<circle cx="82.60" cy="852.90" r="2.22" fill="#fff" stroke="#1414ff" stroke-width="1.15"/>
<circle cx="81.40" cy="879.80" r="2.22" fill="#fff" stroke="#1414ff" stroke-width="1.15"/>
<circle cx="82.80" cy="879.80" r="2.22" fill="#fff" stroke="#1414ff" stroke-width="1.15"/>
<circle cx="101.30" cy="806.50" r="2.22" fill="#fff" stroke="#1414ff" stroke-width="1.15"/>
<circle cx="101.30" cy="821.40" r="2.22" fill="#fff" stroke="#1414ff" stroke-width="1.15"/>
<circle cx="101.40" cy="852.00" r="2.22" fill="#fff" stroke="#1414ff" stroke-width="1.15"/>
<circle cx="120.50" cy="827.40" r="2.22" fill="#fff" stroke="#1414ff" stroke-width="1.15"/>
<circle cx="120.50" cy="849.10" r="2.22" fill="#fff" stroke="#1414ff" stroke-width="1.15"/>
<circle cx="120.50" cy="879.80" r="2.22" fill="#fff" stroke="#1414ff" stroke-width="1.15"/>
<circle cx="138.70" cy="879.80" r="2.22" fill="#fff" stroke="#1414ff" stroke-width="1.15"/>
<circle cx="140.90" cy="879.80" r="2.22" fill="#fff" stroke="#1414ff" stroke-width="1.15"/>
<circle cx="159.30" cy="855.30" r="2.22" fill="#fff" stroke="#1414ff" stroke-width="1.15"/>
<circle cx="159.30" cy="859.90" r="2.22" fill="#fff" stroke="#1414ff" stroke-width="1.15"/>
<circle cx="159.40" cy="879.80" r="2.22" fill="#fff" stroke="#1414ff" stroke-width="1.15"/>
<circle cx="178.40" cy="837.30" r="2.22" fill="#fff" stroke="#1414ff" stroke-width="1.15"/>
<circle cx="178.40" cy="842.30" r="2.22" fill="#fff" stroke="#1414ff" stroke-width="1.15"/>
<circle cx="178.40" cy="853.70" r="2.22" fill="#fff" stroke="#1414ff" stroke-width="1.15"/>
<circle cx="197.60" cy="833.00" r="2.22" fill="#fff" stroke="#1414ff" stroke-width="1.15"/>
<circle cx="197.60" cy="846.10" r="2.22" fill="#fff" stroke="#1414ff" stroke-width="1.15"/>
<circle cx="197.60" cy="853.70" r="2.22" fill="#fff" stroke="#1414ff" stroke-width="1.15"/>
<circle cx="215.50" cy="850.00" r="2.22" fill="#fff" stroke="#1414ff" stroke-width="1.15"/>
<circle cx="218.40" cy="850.00" r="2.22" fill="#fff" stroke="#1414ff" stroke-width="1.15"/>
<circle cx="217.10" cy="856.60" r="2.22" fill="#fff" stroke="#1414ff" stroke-width="1.15"/>
<circle cx="236.10" cy="846.30" r="2.22" fill="#fff" stroke="#1414ff" stroke-width="1.15"/>
<circle cx="237.60" cy="849.80" r="2.22" fill="#fff" stroke="#1414ff" stroke-width="1.15"/>
<circle cx="254.70" cy="846.30" r="2.22" fill="#fff" stroke="#1414ff" stroke-width="1.15"/>
<circle cx="256.80" cy="850.40" r="2.22" fill="#fff" stroke="#1414ff" stroke-width="1.15"/>
<circle cx="256.00" cy="855.40" r="2.22" fill="#fff" stroke="#1414ff" stroke-width="1.15"/>
<circle cx="274.40" cy="810.20" r="2.22" fill="#fff" stroke="#1414ff" stroke-width="1.15"/>
<circle cx="275.90" cy="814.00" r="2.22" fill="#fff" stroke="#1414ff" stroke-width="1.15"/>
<circle cx="274.90" cy="841.50" r="2.22" fill="#fff" stroke="#1414ff" stroke-width="1.15"/>
<circle cx="294.40" cy="826.40" r="2.22" fill="#fff" stroke="#1414ff" stroke-width="1.15"/>
<circle cx="294.10" cy="845.10" r="2.22" fill="#fff" stroke="#1414ff" stroke-width="1.15"/>
<circle cx="294.20" cy="879.80" r="2.22" fill="#fff" stroke="#1414ff" stroke-width="1.15"/>
<polygon points="85.20,810.17 87.62,812.50 85.20,814.83 82.78,812.50" fill="#fff" stroke="#000000" stroke-width="1.15"/>
<polygon points="87.30,813.17 89.72,815.50 87.30,817.83 84.88,815.50" fill="#fff" stroke="#000000" stroke-width="1.15"/>
<polygon points="86.20,877.47 88.62,879.80 86.20,882.13 83.78,879.80" fill="#fff" stroke="#000000" stroke-width="1.15"/>
<polygon points="105.40,811.97 107.83,814.30 105.40,816.63 102.98,814.30" fill="#fff" stroke="#000000" stroke-width="1.15"/>
<polygon points="105.40,835.37 107.83,837.70 105.40,840.03 102.98,837.70" fill="#fff" stroke="#000000" stroke-width="1.15"/>
<polygon points="105.70,848.77 108.12,851.10 105.70,853.43 103.28,851.10" fill="#fff" stroke="#000000" stroke-width="1.15"/>
<polygon points="124.90,830.07 127.33,832.40 124.90,834.73 122.48,832.40" fill="#fff" stroke="#000000" stroke-width="1.15"/>
<polygon points="124.90,840.97 127.33,843.30 124.90,845.63 122.48,843.30" fill="#fff" stroke="#000000" stroke-width="1.15"/>
<polygon points="124.90,850.87 127.33,853.20 124.90,855.53 122.48,853.20" fill="#fff" stroke="#000000" stroke-width="1.15"/>
<polygon points="144.10,841.47 146.53,843.80 144.10,846.13 141.67,843.80" fill="#fff" stroke="#000000" stroke-width="1.15"/>
<polygon points="144.10,848.67 146.53,851.00 144.10,853.33 141.67,851.00" fill="#fff" stroke="#000000" stroke-width="1.15"/>
<polygon points="143.80,877.47 146.23,879.80 143.80,882.13 141.38,879.80" fill="#fff" stroke="#000000" stroke-width="1.15"/>
<polygon points="163.60,854.27 166.03,856.60 163.60,858.93 161.17,856.60" fill="#fff" stroke="#000000" stroke-width="1.15"/>
<polygon points="163.70,877.47 166.12,879.80 163.70,882.13 161.27,879.80" fill="#fff" stroke="#000000" stroke-width="1.15"/>
<polygon points="182.50,817.37 184.93,819.70 182.50,822.03 180.07,819.70" fill="#fff" stroke="#000000" stroke-width="1.15"/>
<polygon points="181.30,845.17 183.73,847.50 181.30,849.83 178.88,847.50" fill="#fff" stroke="#000000" stroke-width="1.15"/>
<polygon points="183.40,847.37 185.83,849.70 183.40,852.03 180.97,849.70" fill="#fff" stroke="#000000" stroke-width="1.15"/>
<polygon points="202.20,828.87 204.62,831.20 202.20,833.53 199.77,831.20" fill="#fff" stroke="#000000" stroke-width="1.15"/>
<polygon points="202.20,845.57 204.62,847.90 202.20,850.23 199.77,847.90" fill="#fff" stroke="#000000" stroke-width="1.15"/>
<polygon points="201.80,877.47 204.23,879.80 201.80,882.13 199.38,879.80" fill="#fff" stroke="#000000" stroke-width="1.15"/>
<polygon points="221.20,829.07 223.62,831.40 221.20,833.73 218.77,831.40" fill="#fff" stroke="#000000" stroke-width="1.15"/>
<polygon points="220.50,846.87 222.93,849.20 220.50,851.53 218.07,849.20" fill="#fff" stroke="#000000" stroke-width="1.15"/>
<polygon points="222.10,849.27 224.53,851.60 222.10,853.93 219.67,851.60" fill="#fff" stroke="#000000" stroke-width="1.15"/>
<polygon points="241.10,852.67 243.53,855.00 241.10,857.33 238.67,855.00" fill="#fff" stroke="#000000" stroke-width="1.15"/>
<polygon points="240.20,877.47 242.62,879.80 240.20,882.13 237.77,879.80" fill="#fff" stroke="#000000" stroke-width="1.15"/>
<polygon points="260.20,845.57 262.62,847.90 260.20,850.23 257.77,847.90" fill="#fff" stroke="#000000" stroke-width="1.15"/>
<polygon points="261.40,847.47 263.82,849.80 261.40,852.13 258.97,849.80" fill="#fff" stroke="#000000" stroke-width="1.15"/>
<polygon points="260.20,852.37 262.62,854.70 260.20,857.03 257.77,854.70" fill="#fff" stroke="#000000" stroke-width="1.15"/>
<polygon points="279.30,812.67 281.73,815.00 279.30,817.33 276.88,815.00" fill="#fff" stroke="#000000" stroke-width="1.15"/>
<polygon points="279.00,833.07 281.43,835.40 279.00,837.73 276.57,835.40" fill="#fff" stroke="#000000" stroke-width="1.15"/>
<polygon points="279.00,877.47 281.43,879.80 279.00,882.13 276.57,879.80" fill="#fff" stroke="#000000" stroke-width="1.15"/>
<polygon points="298.50,819.97 300.93,822.30 298.50,824.63 296.07,822.30" fill="#fff" stroke="#000000" stroke-width="1.15"/>
<polygon points="297.80,845.47 300.23,847.80 297.80,850.13 295.38,847.80" fill="#fff" stroke="#000000" stroke-width="1.15"/>
<polygon points="299.20,846.97 301.62,849.30 299.20,851.63 296.77,849.30" fill="#fff" stroke="#000000" stroke-width="1.15"/>
<line x1="443.55" y1="761.6" x2="443.55" y2="876.3" stroke="#000" stroke-width="1.75"/>
<line x1="439.55" y1="875.4" x2="443.55" y2="875.4" stroke="#000" stroke-width="1.7"/>
<text x="437.6" y="880.1999999999999" font-size="12.4" font-weight="bold" text-anchor="end" fill="#000">0</text>
<line x1="439.55" y1="837.7666666666667" x2="443.55" y2="837.7666666666667" stroke="#000" stroke-width="1.7"/>
<text x="437.6" y="842.5666666666666" font-size="12.4" font-weight="bold" text-anchor="end" fill="#000">5</text>
<line x1="439.55" y1="800.1333333333333" x2="443.55" y2="800.1333333333333" stroke="#000" stroke-width="1.7"/>
<text x="437.6" y="804.9333333333333" font-size="12.4" font-weight="bold" text-anchor="end" fill="#000">10</text>
<line x1="439.55" y1="762.5" x2="443.55" y2="762.5" stroke="#000" stroke-width="1.7"/>
<text x="437.6" y="767.3" font-size="12.4" font-weight="bold" text-anchor="end" fill="#000">15</text>
<line x1="442.65000000000003" y1="875.4" x2="673.8" y2="875.4" stroke="#000" stroke-width="1.75"/>
<line x1="452.4" y1="875.4" x2="452.4" y2="879.9" stroke="#000" stroke-width="1.7"/>
<text transform="translate(457.6,893.6) rotate(-45)" font-size="14.0" font-weight="bold" text-anchor="end" stroke="#000" stroke-width="0.12">RPLN</text>
<line x1="471.60999999999996" y1="875.4" x2="471.60999999999996" y2="879.9" stroke="#000" stroke-width="1.7"/>
<text transform="translate(476.8,893.6) rotate(-45)" font-size="14.0" font-weight="bold" text-anchor="end" stroke="#000" stroke-width="0.12">SMLN</text>
<line x1="490.82" y1="875.4" x2="490.82" y2="879.9" stroke="#000" stroke-width="1.7"/>
<text transform="translate(496.0,893.6) rotate(-45)" font-size="14.0" font-weight="bold" text-anchor="end" stroke="#000" stroke-width="0.12">Tonsil</text>
<line x1="510.03" y1="875.4" x2="510.03" y2="879.9" stroke="#000" stroke-width="1.7"/>
<text transform="translate(515.2,893.6) rotate(-45)" font-size="14.0" font-weight="bold" text-anchor="end" stroke="#000" stroke-width="0.12">Trachea</text>
<line x1="529.24" y1="875.4" x2="529.24" y2="879.9" stroke="#000" stroke-width="1.7"/>
<text transform="translate(534.4,893.6) rotate(-45)" font-size="14.0" font-weight="bold" text-anchor="end" stroke="#000" stroke-width="0.12">Thymus</text>
<line x1="548.45" y1="875.4" x2="548.45" y2="879.9" stroke="#000" stroke-width="1.7"/>
<text transform="translate(553.7,893.6) rotate(-45)" font-size="14.0" font-weight="bold" text-anchor="end" stroke="#000" stroke-width="0.12">Lung</text>
<line x1="567.66" y1="875.4" x2="567.66" y2="879.9" stroke="#000" stroke-width="1.7"/>
<text transform="translate(572.9,893.6) rotate(-45)" font-size="14.0" font-weight="bold" text-anchor="end" stroke="#000" stroke-width="0.12">TBLN</text>
<line x1="586.87" y1="875.4" x2="586.87" y2="879.9" stroke="#000" stroke-width="1.7"/>
<text transform="translate(592.1,893.6) rotate(-45)" font-size="14.0" font-weight="bold" text-anchor="end" stroke="#000" stroke-width="0.12">Spleen</text>
<line x1="606.0799999999999" y1="875.4" x2="606.0799999999999" y2="879.9" stroke="#000" stroke-width="1.7"/>
<text transform="translate(611.3,893.6) rotate(-45)" font-size="14.0" font-weight="bold" text-anchor="end" stroke="#000" stroke-width="0.12">Liver</text>
<line x1="625.29" y1="875.4" x2="625.29" y2="879.9" stroke="#000" stroke-width="1.7"/>
<text transform="translate(630.5,893.6) rotate(-45)" font-size="14.0" font-weight="bold" text-anchor="end" stroke="#000" stroke-width="0.12">Kidney</text>
<line x1="644.5" y1="875.4" x2="644.5" y2="879.9" stroke="#000" stroke-width="1.7"/>
<text transform="translate(649.7,893.6) rotate(-45)" font-size="14.0" font-weight="bold" text-anchor="end" stroke="#000" stroke-width="0.12">Olf bulb</text>
<line x1="663.71" y1="875.4" x2="663.71" y2="879.9" stroke="#000" stroke-width="1.7"/>
<text transform="translate(668.9,893.6) rotate(-45)" font-size="14.0" font-weight="bold" text-anchor="end" stroke="#000" stroke-width="0.12">Trig ganglion</text>
<text transform="translate(415.0,816.8) rotate(-90)" x="0" y="0" font-size="14.2" font-weight="bold" text-anchor="middle" textLength="123.5" lengthAdjust="spacingAndGlyphs"><tspan>Log</tspan><tspan font-size="10.22" dy="2.70">10</tspan><tspan dy="-2.70"> NiV TCID</tspan><tspan font-size="10.22" dy="2.70">50</tspan><tspan dy="-2.70">/g</tspan></text>
<polygon points="469.90,873.07 472.19,877.11 467.60,877.11" fill="#fff" stroke="#3cd22a" stroke-width="1.15" stroke-linejoin="miter"/>
<rect x="443.98" y="873.17" width="4.25" height="4.25" fill="#fff" stroke="#ff1414" stroke-width="1.15"/>
<rect x="463.38" y="873.17" width="4.25" height="4.25" fill="#fff" stroke="#ff1414" stroke-width="1.15"/>
<rect x="636.27" y="850.17" width="4.25" height="4.25" fill="#fff" stroke="#ff1414" stroke-width="1.15"/>
<rect x="636.27" y="873.17" width="4.25" height="4.25" fill="#fff" stroke="#ff1414" stroke-width="1.15"/>
<rect x="655.48" y="852.58" width="4.25" height="4.25" fill="#fff" stroke="#ff1414" stroke-width="1.15"/>
<polygon points="457.50,833.17 459.93,835.50 457.50,837.83 455.07,835.50" fill="#fff" stroke="#000000" stroke-width="1.15"/>
<polygon points="459.70,837.57 462.12,839.90 459.70,842.23 457.27,839.90" fill="#fff" stroke="#000000" stroke-width="1.15"/>
<polygon points="478.00,838.67 480.43,841.00 478.00,843.33 475.57,841.00" fill="#fff" stroke="#000000" stroke-width="1.15"/>
<polygon points="497.20,848.27 499.62,850.60 497.20,852.93 494.77,850.60" fill="#fff" stroke="#000000" stroke-width="1.15"/>
<polygon points="497.20,853.67 499.62,856.00 497.20,858.33 494.77,856.00" fill="#fff" stroke="#000000" stroke-width="1.15"/>
<polygon points="516.40,848.27 518.82,850.60 516.40,852.93 513.98,850.60" fill="#fff" stroke="#000000" stroke-width="1.15"/>
<polygon points="554.50,848.27 556.92,850.60 554.50,852.93 552.08,850.60" fill="#fff" stroke="#000000" stroke-width="1.15"/>
<polygon points="593.10,845.97 595.52,848.30 593.10,850.63 590.68,848.30" fill="#fff" stroke="#000000" stroke-width="1.15"/>
<polygon points="593.10,872.97 595.52,875.30 593.10,877.63 590.68,875.30" fill="#fff" stroke="#000000" stroke-width="1.15"/>
<polygon points="650.60,851.17 653.02,853.50 650.60,855.83 648.18,853.50" fill="#fff" stroke="#000000" stroke-width="1.15"/>
<polygon points="651.20,872.97 653.62,875.30 651.20,877.63 648.78,875.30" fill="#fff" stroke="#000000" stroke-width="1.15"/>
<polygon points="669.90,837.17 672.32,839.50 669.90,841.83 667.48,839.50" fill="#fff" stroke="#000000" stroke-width="1.15"/>
<polygon points="669.90,846.27 672.32,848.60 669.90,850.93 667.48,848.60" fill="#fff" stroke="#000000" stroke-width="1.15"/>
<circle cx="454.60" cy="875.30" r="2.12" fill="#fff" stroke="#1414ff" stroke-width="1.15"/>
<circle cx="473.90" cy="875.30" r="2.12" fill="#fff" stroke="#1414ff" stroke-width="1.15"/>
<circle cx="646.60" cy="875.30" r="2.12" fill="#fff" stroke="#1414ff" stroke-width="1.15"/>
<rect x="592.1" y="860.9" width="2" height="2" fill="#000"/>
<rect x="668.9" y="842.9" width="2" height="2" fill="#000"/>
<rect x="636.9" y="862.8" width="3" height="2" fill="#ff1414"/>
</svg>
</body></html>
